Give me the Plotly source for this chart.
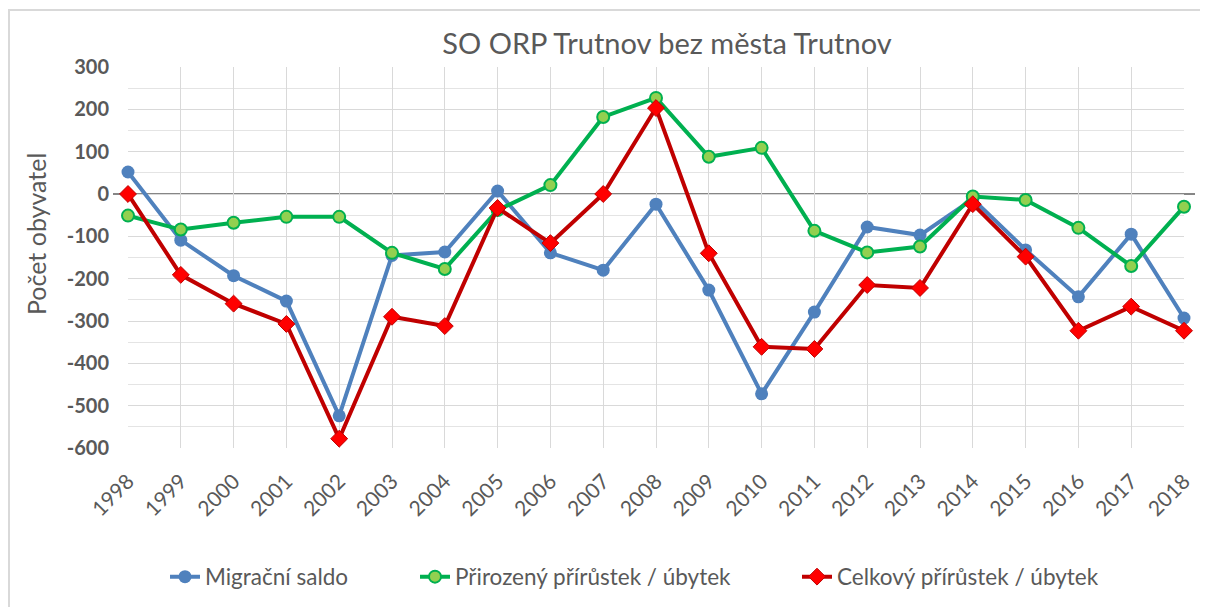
import plotly.graph_objects as go

years = [str(y) for y in range(1998, 2019)]
migracni = [52, -109, -193, -253, -524, -145, -137, 7, -139, -180, -24, -227, -472, -279, -78, -97, -12, -132, -243, -95, -293]
prirozeny = [-51, -84, -68, -54, -54, -139, -177, -38, 21, 182, 227, 88, 109, -87, -138, -124, -6, -14, -80, -170, -30]
celkovy = [0, -191, -259, -307, -578, -290, -312, -33, -116, 0, 203, -140, -361, -366, -215, -222, -24, -148, -323, -266, -323]
y_ticks = [300, 200, 100, 0, -100, -200, -300, -400, -500, -600]

FONT = "Lato"
GRAY = "#595959"

OFF = 8  # page body margin
W, H = 1208 - OFF, 607 - OFF
L, T = 128 - OFF, 67 - OFF
R = W - (1184 - OFF)
B = H - (448 - OFF)
pw, ph = W - L - R, H - T - B

def px(x):  # page pixel -> paper x
    return (x - OFF - L) / pw

def py(y):  # page pixel -> paper y
    return (H - B - (y - OFF)) / ph

fig = go.Figure()
fig.add_trace(go.Scatter(
    x=years, y=migracni, name="Migrační saldo", mode="lines+markers",
    line=dict(color="#4F81BD", width=4),
    marker=dict(symbol="circle", size=13, color="#4F81BD"),
    cliponaxis=False, legend="legend"))
fig.add_trace(go.Scatter(
    x=years, y=prirozeny, name="Přirozený přírůstek / úbytek", mode="lines+markers",
    line=dict(color="#00B050", width=4),
    marker=dict(symbol="circle", size=12, color="#92D050", line=dict(color="#00B050", width=2)),
    cliponaxis=False, legend="legend2"))
fig.add_trace(go.Scatter(
    x=years, y=celkovy, name="Celkový přírůstek / úbytek", mode="lines+markers",
    line=dict(color="#C00000", width=4),
    marker=dict(symbol="diamond", size=13, color="#FF0000", line=dict(color="#C00000", width=1)),
    cliponaxis=False, legend="legend3"))

leg_common = dict(orientation="h", xanchor="left", yanchor="middle", y=py(577),
                  font=dict(family=FONT, size=22.5, color=GRAY), bgcolor="rgba(0,0,0,0)",
                  itemwidth=30)

fig.update_layout(
    width=W, height=H,
    margin=dict(l=L, r=R, t=T, b=B, autoexpand=False),
    paper_bgcolor="white", plot_bgcolor="white",
    showlegend=True,
    legend=dict(x=px(165), **leg_common),
    legend2=dict(x=px(415), **leg_common),
    legend3=dict(x=px(797), **leg_common),
    title=dict(text="SO ORP Trutnov bez města Trutnov", xref="container",
               x=(667 - OFF) / W, xanchor="center",
               y=1 - (44 - OFF) / H, yanchor="middle",
               font=dict(family=FONT, size=29, color=GRAY)),
    xaxis=dict(type="category", range=[0, len(years) - 1], showgrid=True, gridcolor="#D9D9D9",
               gridwidth=1, tickangle=-45, tickfont=dict(family=FONT, size=21, color=GRAY),
               ticklabelstandoff=16,
               showline=False, zeroline=False, ticks="", fixedrange=True),
    yaxis=dict(range=[-600, 300], tickvals=y_ticks, ticktext=[str(v) for v in y_ticks],
               showgrid=True, gridcolor="#D9D9D9", gridwidth=1,
               minor=dict(dtick=50, showgrid=True, gridcolor="#E4E4E4", gridwidth=1),
               tickfont=dict(family=FONT, size=20, color=GRAY, weight="bold"),
               ticklabelstandoff=18, zeroline=False, showline=False, ticks=""),
    annotations=[dict(text="Počet obyvatel", textangle=-90, xref="paper", yref="paper",
                      x=px(36), y=py(234), xanchor="center", yanchor="middle", showarrow=False,
                      font=dict(family=FONT, size=25, color=GRAY))],
    shapes=[
        dict(type="line", xref="paper", yref="y", x0=px(113), x1=px(1195), y0=0, y1=0,
             line=dict(color="#868686", width=2), layer="below"),
        dict(type="rect", xref="paper", yref="paper", x0=px(9), x1=px(1240), y0=py(10), y1=py(650),
             line=dict(color="#D9D9D9", width=2), layer="below"),
    ],
)

fig.write_html("out.html")
